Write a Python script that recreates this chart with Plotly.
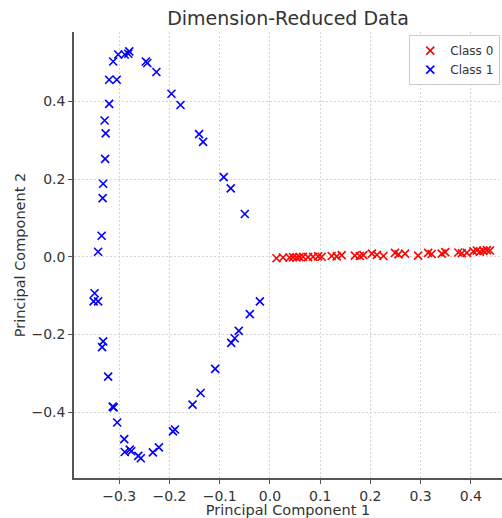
import plotly.graph_objects as go

# Class 0 (red)
class0_x = [0.013, 0.026, 0.039, 0.046, 0.053, 0.059, 0.066, 0.076, 0.086, 0.096,
            0.103, 0.123, 0.133, 0.143, 0.169, 0.179, 0.186, 0.203, 0.213, 0.226,
            0.249, 0.256, 0.269, 0.295, 0.315, 0.322, 0.342, 0.349, 0.375, 0.382,
            0.392, 0.405, 0.412, 0.418, 0.425, 0.432, 0.438]
class0_y = [-0.004, -0.002, -0.002, -0.001, -0.002, -0.001, 0.000, -0.001, 0.000, 0.001,
            0.000, 0.002, 0.001, 0.004, 0.003, 0.002, 0.004, 0.008, 0.005, 0.002,
            0.010, 0.006, 0.008, 0.003, 0.010, 0.007, 0.008, 0.012, 0.011, 0.009,
            0.010, 0.014, 0.016, 0.013, 0.015, 0.017, 0.016]

# Class 1 (blue)
class1_x = [-0.333, -0.332, -0.328, -0.327, -0.329, -0.320, -0.320, -0.305, -0.312, -0.302,
            -0.289, -0.282, -0.280, -0.247, -0.244, -0.226, -0.196, -0.178, -0.141, -0.133,
            -0.092, -0.078, -0.050, -0.335, -0.342, -0.349, -0.351, -0.342, -0.332, -0.334,
            -0.322, -0.313, -0.311, -0.304, -0.290, -0.289, -0.279, -0.276, -0.262, -0.257,
            -0.233, -0.221, -0.193, -0.189, -0.154, -0.138, -0.109, -0.077, -0.070, -0.062,
            -0.040, -0.020]
class1_y = [0.151, 0.188, 0.252, 0.318, 0.351, 0.394, 0.456, 0.456, 0.503, 0.521,
            0.521, 0.523, 0.529, 0.503, 0.499, 0.476, 0.420, 0.391, 0.316, 0.296,
            0.205, 0.176, 0.110, 0.054, 0.013, -0.094, -0.115, -0.115, -0.218, -0.233,
            -0.309, -0.386, -0.388, -0.427, -0.470, -0.503, -0.497, -0.501, -0.513, -0.519,
            -0.504, -0.491, -0.450, -0.445, -0.381, -0.351, -0.289, -0.222, -0.210, -0.191,
            -0.148, -0.115]

x_ticks = [-0.3, -0.2, -0.1, 0.0, 0.1, 0.2, 0.3, 0.4]
x_tick_labels = ["\u22120.3", "\u22120.2", "\u22120.1", "0.0", "0.1", "0.2", "0.3", "0.4"]
y_ticks = [-0.4, -0.2, 0.0, 0.2, 0.4]
y_tick_labels = ["\u22120.4", "\u22120.2", "0.0", "0.2", "0.4"]

fig = go.Figure()
fig.add_trace(go.Scatter(
    x=class0_x, y=class0_y, mode="markers", name="Class 0",
    marker=dict(symbol="x-thin", size=8, line=dict(color="#ff0000", width=1.6), color="#ff0000"),
))
fig.add_trace(go.Scatter(
    x=class1_x, y=class1_y, mode="markers", name="Class 1",
    marker=dict(symbol="x-thin", size=8, line=dict(color="#0000ff", width=1.6), color="#0000ff"),
))

font_family = "DejaVu Sans, sans-serif"
fig.update_layout(
    width=502, height=518,
    margin=dict(l=74, r=0, t=32, b=40),
    paper_bgcolor="white", plot_bgcolor="white",
    font=dict(family=font_family, size=13, color="#333333"),
    title=dict(text="Dimension-Reduced Data", x=0.5, xref="paper", xanchor="center",
               y=0.965, yref="container", yanchor="middle",
               font=dict(size=19, color="#333333")),
    showlegend=True,
    legend=dict(x=0.996, xanchor="right", y=0.993, yanchor="top",
                bgcolor="rgba(255,255,255,0.85)", bordercolor="#cccccc", borderwidth=1,
                font=dict(size=12, color="#333333"), itemwidth=30,
                tracegroupgap=0),
)
fig.update_xaxes(
    range=[-0.39, 0.462], tickvals=x_ticks, ticktext=x_tick_labels,
    showgrid=True, gridcolor="#d4d4d4", griddash="2px,2px", gridwidth=1,
    zeroline=False, showline=True, linecolor="#555555", linewidth=1.5,
    ticks="outside", ticklen=4, tickcolor="#555555", tickwidth=1,
    title=dict(text="Principal Component 1", standoff=1, font=dict(size=14.5)),
    tickfont=dict(size=14),
)
fig.update_yaxes(
    range=[-0.570, 0.579], tickvals=y_ticks, ticktext=y_tick_labels,
    showgrid=True, gridcolor="#d4d4d4", griddash="2px,2px", gridwidth=1,
    zeroline=False, showline=True, linecolor="#555555", linewidth=1.5,
    ticks="outside", ticklen=4, tickcolor="#555555", tickwidth=1,
    title=dict(text="Principal Component 2", standoff=2, font=dict(size=14.5)),
    tickfont=dict(size=14),
)

fig.write_html("out.html")
